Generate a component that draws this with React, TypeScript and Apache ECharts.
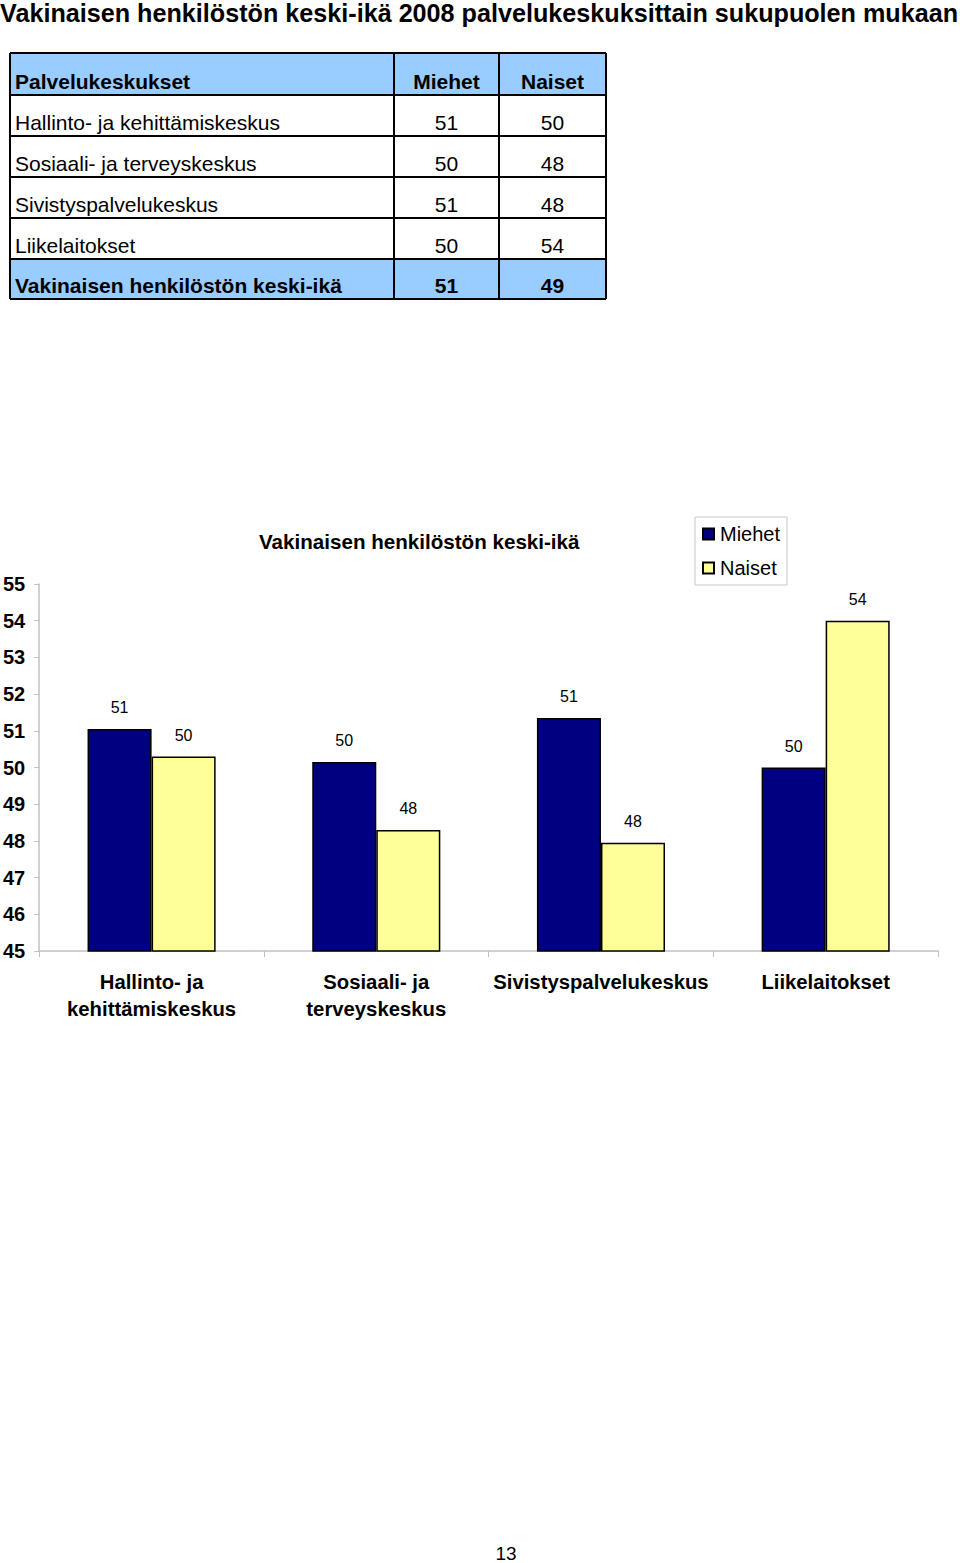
import React, { useEffect, useRef } from "react";
import * as echarts from "echarts";

const PAGE_TITLE = "Vakinaisen henkilöstön keski-ikä 2008 palvelukeskuksittain sukupuolen mukaan";
const CHART_TITLE = "Vakinaisen henkilöstön keski-ikä";
const SERIES_NAMES = ["Miehet", "Naiset"];

// Table contents
const tableHeader = ["Palvelukeskukset", "Miehet", "Naiset"];
const tableRows = [
  "Hallinto- ja kehittämiskeskus",
  "Sosiaali- ja terveyskeskus",
  "Sivistyspalvelukeskus",
  "Liikelaitokset",
];
const tableMiehet = [51, 50, 51, 50];
const tableNaiset = [50, 48, 48, 54];
const totalLabel = "Vakinaisen henkilöstön keski-ikä";
const totalValues = [51, 49];

// Chart contents
const categories = [
  "Hallinto- ja\nkehittämiskeskus",
  "Sosiaali- ja\nterveyskeskus",
  "Sivistyspalvelukeskus",
  "Liikelaitokset",
];
const miehet = [51.05, 50.15, 51.35, 50.0];
const naiset = [50.3, 48.3, 47.95, 54.0];
const yMin = 45;
const yMax = 55;
const yInterval = 1;
const pageNumber = "13";

const FONT = '"Liberation Sans", Arial, Helvetica, sans-serif';

export default function App() {
  const ref = useRef<HTMLDivElement>(null);

  useEffect(() => {
    if (!ref.current) return;
    const chart = echarts.init(ref.current, undefined, { renderer: "svg" });

    // measure title width to stretch to page width
    let titleScale = 1;
    try {
      const ctx = document.createElement("canvas").getContext("2d");
      if (ctx) {
        ctx.font = 'bold 25px "Liberation Sans"';
        const w = ctx.measureText(PAGE_TITLE).width;
        if (w > 0) titleScale = 958 / w;
      }
    } catch (e) {}

    // Table geometry
    const colX = [10, 394, 499, 606];
    const rowY = [53, 95, 136, 177, 218, 259, 299];
    const blue = "#99CCFF";
    const g: any[] = [];

    g.push({
      type: "text",
      x: 0,
      y: 13,
      scaleX: titleScale,
      style: {
        text: PAGE_TITLE,
        fontSize: 25,
        fontWeight: "bold",
        fontFamily: FONT,
        fill: "#000",
        align: "left",
        verticalAlign: "middle",
      },
    });

    // backgrounds
    g.push({
      type: "rect",
      shape: { x: colX[0], y: rowY[0], width: colX[3] - colX[0], height: rowY[1] - rowY[0] },
      style: { fill: blue },
    });
    g.push({
      type: "rect",
      shape: { x: colX[0], y: rowY[5], width: colX[3] - colX[0], height: rowY[6] - rowY[5] },
      style: { fill: blue },
    });

    const colCenters = [(colX[1] + colX[2]) / 2, (colX[2] + colX[3]) / 2];
    const textY = (r: number) => rowY[r + 1] - 14;
    const cellText = (text: string, x: number, y: number, bold: boolean, align: string) => ({
      type: "text",
      x,
      y,
      style: {
        text,
        fontSize: 21,
        fontWeight: bold ? "bold" : "normal",
        fontFamily: FONT,
        fill: "#000",
        align,
        verticalAlign: "middle",
      },
    });

    // header
    g.push(cellText(tableHeader[0], 15, textY(0), true, "left"));
    g.push(cellText(tableHeader[1], colCenters[0], textY(0), true, "center"));
    g.push(cellText(tableHeader[2], colCenters[1], textY(0), true, "center"));
    tableRows.forEach((name, i) => {
      g.push(cellText(name, 15, textY(i + 1), false, "left"));
      g.push(cellText(String(tableMiehet[i]), colCenters[0], textY(i + 1), false, "center"));
      g.push(cellText(String(tableNaiset[i]), colCenters[1], textY(i + 1), false, "center"));
    });
    g.push(cellText(totalLabel, 15, textY(5), true, "left"));
    g.push(cellText(String(totalValues[0]), colCenters[0], textY(5), true, "center"));
    g.push(cellText(String(totalValues[1]), colCenters[1], textY(5), true, "center"));

    // grid lines
    rowY.forEach((y) => {
      g.push({
        type: "line",
        shape: { x1: colX[0], y1: y, x2: colX[3], y2: y },
        style: { stroke: "#000", lineWidth: 2 },
      });
    });
    colX.forEach((x) => {
      g.push({
        type: "line",
        shape: { x1: x, y1: rowY[0], x2: x, y2: rowY[6] },
        style: { stroke: "#000", lineWidth: 2 },
      });
    });

    // page number
    g.push({
      type: "text",
      x: 506,
      y: 1553,
      style: {
        text: pageNumber,
        fontSize: 19,
        fontFamily: FONT,
        fill: "#000",
        align: "center",
        verticalAlign: "middle",
      },
    });

    const labelCfg = {
      show: true,
      position: "top",
      distance: 13,
      fontSize: 16,
      fontFamily: FONT,
      color: "#000",
      formatter: (p: any) => String(Math.round(p.value)),
    };

    chart.setOption({
      animation: false,
      backgroundColor: "#fff",
      title: {
        text: CHART_TITLE,
        left: 259,
        top: 531,
        padding: 0,
        textStyle: { fontSize: 20.6, fontWeight: "bold", fontFamily: FONT, color: "#000" },
      },
      legend: {
        data: SERIES_NAMES,
        orient: "vertical",
        left: 695,
        top: 517,
        padding: [7, 7, 7, 7],
        itemGap: 14,
        itemWidth: 11,
        itemHeight: 11,
        icon: "rect",
        borderColor: "#c8c8c8",
        borderWidth: 1,
        textStyle: { fontSize: 20, fontFamily: FONT, color: "#000", padding: [0, 0, 0, 1] },
      },
      grid: { left: 37, right: 22, top: 584, bottom: 612, containLabel: false },
      xAxis: {
        type: "category",
        data: categories,
        axisLine: { lineStyle: { color: "#c0c0c0", width: 1.5 } },
        axisTick: { show: true, length: 6, lineStyle: { color: "#c0c0c0" } },
        axisLabel: {
          fontSize: 20.3,
          fontWeight: "bold",
          fontFamily: FONT,
          color: "#000",
          lineHeight: 27,
          margin: 17,
          interval: 0,
        },
      },
      yAxis: {
        type: "value",
        min: yMin,
        max: yMax,
        interval: yInterval,
        axisLine: { show: true, lineStyle: { color: "#c0c0c0", width: 1.5 } },
        axisTick: { show: true, length: 5, lineStyle: { color: "#c0c0c0" } },
        splitLine: { show: false },
        axisLabel: {
          fontSize: 20,
          fontWeight: "bold",
          fontFamily: FONT,
          color: "#000",
          margin: 14,
        },
      },
      series: [
        {
          name: SERIES_NAMES[0],
          type: "bar",
          data: miehet,
          barGap: "0%",
          barCategoryGap: "43%",
          itemStyle: { color: "#000080", borderColor: "#000", borderWidth: 1.5 },
          label: labelCfg,
        },
        {
          name: SERIES_NAMES[1],
          type: "bar",
          data: naiset,
          barGap: "0%",
          barCategoryGap: "43%",
          itemStyle: { color: "#FFFF99", borderColor: "#000", borderWidth: 1.5 },
          label: labelCfg,
        },
      ],
      graphic: g,
    });

    return () => chart.dispose();
  }, []);

  return (
    <div
      ref={ref}
      style={{ position: "absolute", left: 0, top: 0, width: 960, height: 1563 }}
    />
  );
}
